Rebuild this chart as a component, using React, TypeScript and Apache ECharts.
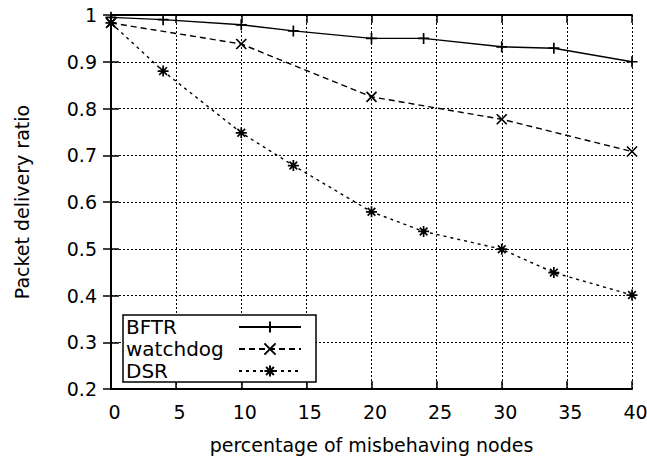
import React, { useEffect, useRef } from "react";
import * as echarts from "echarts";

// Percentage of misbehaving nodes (x) and delivery ratio (y) for each protocol
const bftrX = [0, 4, 10, 14, 20, 24, 30, 34, 40];
const bftrY = [0.995, 0.99, 0.979, 0.966, 0.95, 0.95, 0.932, 0.929, 0.9];
const watchdogX = [0, 10, 20, 30, 40];
const watchdogY = [0.983, 0.938, 0.825, 0.777, 0.708];
const dsrX = [0, 4, 10, 14, 20, 24, 30, 34, 40];
const dsrY = [0.983, 0.88, 0.748, 0.678, 0.579, 0.537, 0.499, 0.449, 0.401];

const seriesNames = ["BFTR", "watchdog", "DSR"];
const xTitle = "percentage of misbehaving nodes";
const yTitle = "Packet delivery ratio";

const FONT = "'DejaVu Sans', Arial, Helvetica, sans-serif";

const PLUS = "path://M0,5L10,5M5,0L5,10";
const CROSS = "path://M0,0L10,10M10,0L0,10";
const STAR = "path://M0,5L10,5M5,0L5,10M1.5,1.5L8.5,8.5M8.5,1.5L1.5,8.5";

const pairs = (xs: number[], ys: number[]) => xs.map((x, i) => [x, ys[i]]);

export default function App() {
  const ref = useRef<HTMLDivElement>(null);

  useEffect(() => {
    document.body.style.margin = "0";
    const chart = echarts.init(ref.current!, undefined, { renderer: "svg" });

    const mkSeries = (
      name: string,
      data: number[][],
      symbol: string,
      dash: number[] | "solid",
      size: number
    ) => ({
      name,
      type: "line",
      data,
      symbol,
      symbolSize: size,
      showSymbol: true,
      lineStyle: { color: "#000", width: 1.4, type: dash },
      itemStyle: { color: "#000", borderColor: "#000", borderWidth: 1.7 },
      emphasis: { disabled: true },
      z: 5,
    });

    const axisCommon = {
      axisLine: { show: true, lineStyle: { color: "#000", width: 2 } },
      axisTick: { show: true, inside: true, length: 8, lineStyle: { color: "#000", width: 1.5 } },
    };

    const gridDots = { show: true, lineStyle: { color: "#000", width: 1, type: [2, 2] } };

    chart.setOption({
      animation: false,
      backgroundColor: "#fff",
      textStyle: { fontFamily: FONT },
      grid: { left: 111, right: 15, top: 15, bottom: 71, outerBoundsMode: "none", containLabel: false },
      legend: {
        data: seriesNames,
        orient: "vertical",
        left: 123,
        top: 315,
        align: "right",
        itemGap: 2,
        itemWidth: 62,
        itemHeight: 14,
        padding: [2, 14, 1, 3],
        borderColor: "#000",
        borderWidth: 1.5,
        borderRadius: 0,
        backgroundColor: "#fff",
        formatter: (name: string) => `{t|${name}}`,
        textStyle: {
          fontFamily: FONT,
          fontSize: 20,
          lineHeight: 20,
          color: "#000",
          rich: {
            t: {
              fontFamily: FONT,
              fontSize: 20,
              lineHeight: 20,
              color: "#000",
              width: 108,
              align: "left",
            },
          },
        },
        z: 10,
      },
      xAxis: [
        {
          type: "value",
          min: 0,
          max: 40,
          interval: 5,
          position: "bottom",
          name: xTitle,
          nameLocation: "middle",
          nameGap: 46,
          nameMoveOverlap: false,
          nameTextStyle: { fontFamily: FONT, fontSize: 19, color: "#000" },
          axisLabel: {
            fontFamily: FONT,
            fontSize: 19,
            color: "#000",
            margin: 13,
            padding: [0, 0, 0, 7],
          },
          splitLine: gridDots,
          ...axisCommon,
        },
        {
          type: "value",
          min: 0,
          max: 40,
          interval: 5,
          position: "top",
          axisLabel: { show: false },
          splitLine: { show: false },
          ...axisCommon,
        },
      ],
      yAxis: [
        {
          type: "value",
          min: 0.2,
          max: 1,
          interval: 0.1,
          position: "left",
          name: yTitle,
          nameLocation: "middle",
          nameGap: 80,
          nameRotate: 90,
          nameMoveOverlap: false,
          nameTextStyle: { fontFamily: FONT, fontSize: 19, color: "#000" },
          axisLabel: {
            fontFamily: FONT,
            fontSize: 19,
            color: "#000",
            margin: 14,
            padding: [4, 0, 0, 0],
            formatter: (v: number) => (Math.abs(v - 1) < 1e-9 ? "1" : v.toFixed(1)),
          },
          splitLine: gridDots,
          ...axisCommon,
        },
        {
          type: "value",
          min: 0.2,
          max: 1,
          interval: 0.1,
          position: "right",
          axisLabel: { show: false },
          splitLine: { show: false },
          ...axisCommon,
        },
      ],
      series: [
        mkSeries("BFTR", pairs(bftrX, bftrY), PLUS, "solid", 11),
        mkSeries("watchdog", pairs(watchdogX, watchdogY), CROSS, [6, 4], 10),
        mkSeries("DSR", pairs(dsrX, dsrY), STAR, [3, 4], 11),
      ],
    });

    return () => chart.dispose();
  }, []);

  return <div ref={ref} style={{ width: 647, height: 460 }} />;
}
